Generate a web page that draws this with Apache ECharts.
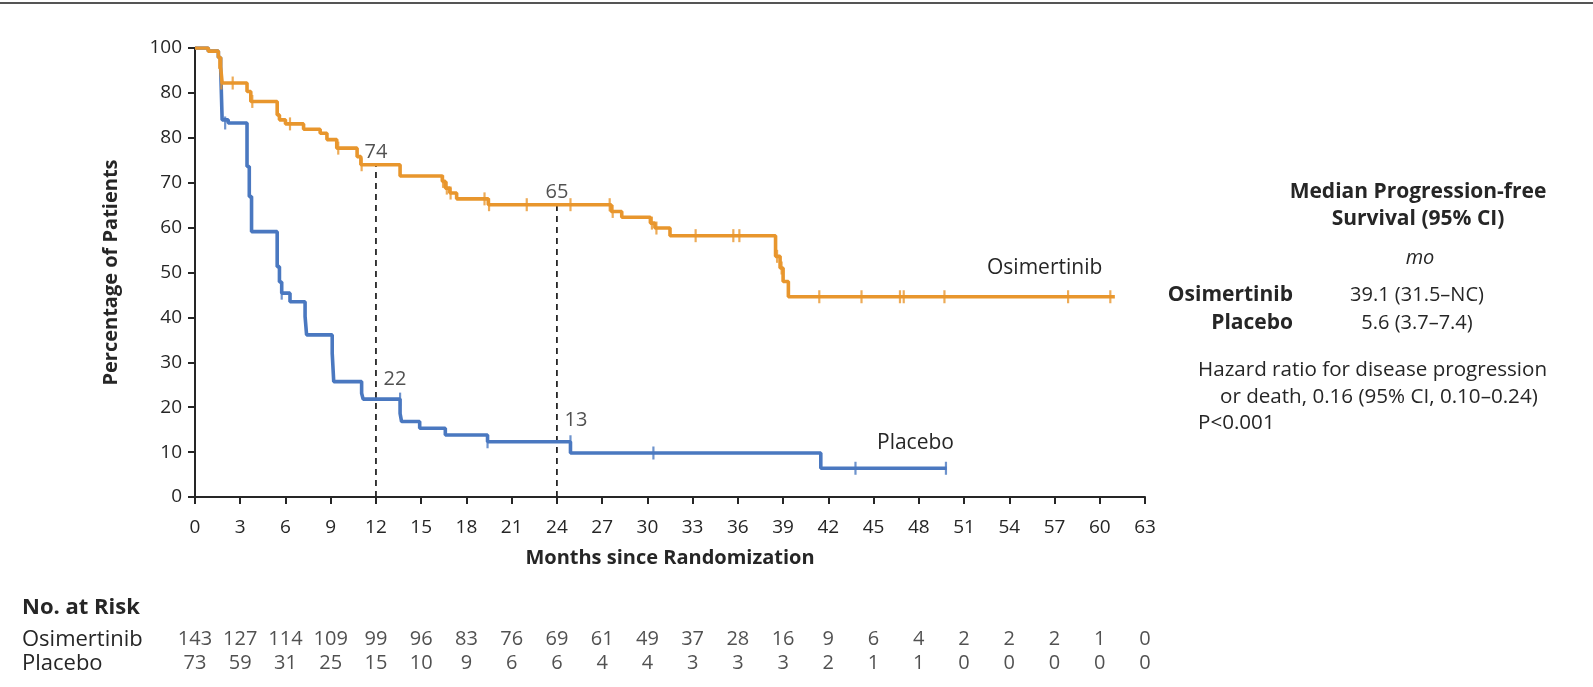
<!DOCTYPE html>
<html><head><meta charset="utf-8">
<script src="https://cdn.jsdelivr.net/npm/echarts@6/dist/echarts.min.js"></script>
<style>html,body{margin:0;padding:0;background:#fff}#c{width:1593px;height:687px}</style>
</head><body><div id="c"></div>
<script>
// ---------- data ----------
const xTickMonths = [0,3,6,9,12,15,18,21,24,27,30,33,36,39,42,45,48,51,54,57,60,63];
const yTickLabels = ['0','10','20','30','40','50','60','70','80','80','100'];

// Kaplan-Meier steps: [month, % surviving after that month]
const osiCurve = [[0,100],[0.88,99.3],[1.55,97.9],[1.7,95.8],[1.8,92.2],[3.45,90.3],[3.7,88.1],
  [5.45,85.1],[5.6,84.0],[6.0,83.1],[7.2,81.9],[8.3,81.0],[8.75,79.6],[9.4,77.7],[10.75,75.8],[11.0,74.0],
  [13.6,71.5],[16.4,70.3],[16.6,68.8],[16.9,67.7],[17.35,66.4],[19.45,65.1],[27.6,63.6],[28.3,62.3],
  [30.2,61.0],[30.5,59.9],[31.5,58.2],[38.5,53.6],[38.8,51.0],[39.0,48.0],[39.35,44.6],[61.0,44.6]];
const placeboCurve = [[0,100],[0.88,99.3],[1.55,97.9],[1.7,95.8],[1.8,84.0],[2.2,83.3],[3.45,73.6],[3.6,66.9],[3.75,59.1],
  [5.45,51.3],[5.6,47.9],[5.75,45.4],[6.3,43.5],[7.3,40.2],[7.4,36.1],[9.1,32.0],[9.2,25.7],[11.05,23.1],
  [11.15,21.8],[13.6,18.6],[13.7,16.8],[14.9,15.3],[16.6,13.8],[19.4,12.3],[24.9,9.8],[41.5,6.4],[49.85,6.4]];

// censored observations
const osiCensor = [[1.6,96.8],[1.75,92.2],[2.5,92.2],[3.8,88.1],[6.3,83.1],[9.5,77.7],[11.05,74.0],
  [16.45,70.3],[16.7,68.8],[16.95,67.7],[19.2,66.4],[19.5,65.1],[22.0,65.1],[24.9,65.1],[27.5,65.1],
  [27.7,63.6],[30.3,61.0],[30.6,59.9],[33.2,58.2],[35.7,58.2],[36.1,58.2],[38.6,53.6],[38.9,51.0],
  [41.4,44.6],[44.2,44.6],[46.75,44.6],[47.0,44.6],[49.7,44.6],[57.9,44.6],[60.7,44.6]];
const placeboCensor = [[2.0,83.3],[5.75,45.4],[13.6,21.8],[19.4,12.3],[24.9,12.3],[30.4,9.8],[43.8,6.4],[49.8,6.4]];

// landmark estimates
const milestoneMonths = [12, 24];
const milestoneOsi = [74, 65];
const milestonePlacebo = [22, 13];

// number at risk
const riskRows = ['Osimertinib', 'Placebo'];
const osiAtRisk = [143,127,114,109,99,96,83,76,69,61,49,37,28,16,9,6,4,2,2,2,1,0];
const placeboAtRisk = [73,59,31,25,15,10,9,6,6,4,4,3,3,3,2,1,1,0,0,0,0,0];

// ---------- chart ----------
const ORANGE = '#E8962D', BLUE = '#4A78C0', INK = '#262626';
const FONT = 'Open Sans';
const chart = echarts.init(document.getElementById('c'), null, {renderer: 'canvas'});

const dashed = milestoneMonths.map((m, i) => ({
  type: 'line', xAxisIndex: 0, yAxisIndex: 0, z: 1, silent: true, symbol: 'none',
  data: [[m, 0], [m, milestoneOsi[i]]],
  lineStyle: {color: INK, width: 1.8, type: [6, 5]}
}));

const riskSeries = [osiAtRisk, placeboAtRisk].map((arr, r) => ({
  type: 'scatter', xAxisIndex: 1, yAxisIndex: 1, symbolSize: 1, silent: true,
  itemStyle: {color: 'transparent'},
  data: xTickMonths.map((m, i) => [m, riskRows[r], arr[i]]),
  label: {show: true, position: 'inside', formatter: p => String(p.data[2]),
    fontFamily: FONT, fontSize: 20, color: INK}
}));

chart.setOption({
  animation: false,
  backgroundColor: '#fff',
  grid: [
    {left: 195, right: 448, top: 48, bottom: 190},
    {left: 195, right: 448, top: 628, height: 47}
  ],
  xAxis: [
    {type: 'value', gridIndex: 0, min: 0, max: 63, interval: 3,
     name: 'Months since Randomization', nameLocation: 'middle', nameGap: 51,
     nameTextStyle: {fontFamily: FONT, fontSize: 20, fontWeight: 'bold', color: INK},
     axisLine: {lineStyle: {color: INK, width: 2}},
     axisTick: {length: 7, lineStyle: {color: INK, width: 2}},
     axisLabel: {fontFamily: FONT, fontSize: 19, color: INK, margin: 21},
     splitLine: {show: false}},
    {type: 'value', gridIndex: 1, min: 0, max: 63, interval: 3, show: false}
  ],
  yAxis: [
    {type: 'value', gridIndex: 0, min: 0, max: 100, interval: 10,
     name: 'Percentage of Patients', nameLocation: 'middle', nameGap: 74,
     nameTextStyle: {fontFamily: FONT, fontSize: 20, fontWeight: 'bold', color: INK},
     axisLine: {show: true, lineStyle: {color: INK, width: 2}},
     axisTick: {show: true, length: 7, lineStyle: {color: INK, width: 2}},
     axisLabel: {fontFamily: FONT, fontSize: 19, color: INK, margin: 13,
       formatter: v => yTickLabels[Math.round(v / 10)]},
     splitLine: {show: false}},
    {type: 'category', gridIndex: 1, data: riskRows, inverse: true,
     axisLine: {show: false}, axisTick: {show: false},
     axisLabel: {interval: 0, align: 'left', margin: 173, fontFamily: FONT, fontSize: 22, color: INK}}
  ],
  series: [
    ...dashed,
    {type: 'line', name: 'Placebo', step: 'end', symbol: 'none', z: 3, data: placeboCurve,
     lineStyle: {color: BLUE, width: 3.6}},
    {type: 'line', name: 'Osimertinib', step: 'end', symbol: 'none', z: 4, data: osiCurve,
     lineStyle: {color: ORANGE, width: 3.6}},
    {type: 'scatter', z: 5, symbol: 'rect', symbolSize: [2.2, 13], data: placeboCensor,
     itemStyle: {color: BLUE}},
    {type: 'scatter', z: 6, symbol: 'rect', symbolSize: [2.2, 13], data: osiCensor,
     itemStyle: {color: ORANGE}},
    {type: 'scatter', z: 7, symbolSize: 1, itemStyle: {color: 'transparent'},
     data: milestoneMonths.map((m, i) => [m, milestoneOsi[i]]),
     label: {show: true, position: 'top', distance: 2, formatter: p => String(p.data[1]),
       fontFamily: FONT, fontSize: 20, color: INK}},
    {type: 'scatter', z: 7, symbolSize: 1, itemStyle: {color: 'transparent'},
     data: milestoneMonths.map((m, i) => [m, milestonePlacebo[i]]),
     label: {show: true, position: 'top', distance: 8, offset: [19, 0], formatter: p => String(p.data[1]),
       fontFamily: FONT, fontSize: 20, color: INK}},
    ...riskSeries
  ],
  graphic: [
    {type: 'rect', shape: {x: 0, y: 2, width: 1593, height: 2}, style: {fill: '#555'}},
    {type: 'text', x: 987, y: 268, style: {text: 'Osimertinib', fontFamily: FONT, fontSize: 21, fill: INK, verticalAlign: 'middle'}},
    {type: 'text', x: 877, y: 443, style: {text: 'Placebo', fontFamily: FONT, fontSize: 21, fill: INK, verticalAlign: 'middle'}},
    {type: 'text', x: 1418, y: 192, style: {text: 'Median Progression-free', fontFamily: FONT, fontSize: 21, fontWeight: 'bold', fill: INK, align: 'center', verticalAlign: 'middle'}},
    {type: 'text', x: 1418, y: 219, style: {text: 'Survival (95% CI)', fontFamily: FONT, fontSize: 21, fontWeight: 'bold', fill: INK, align: 'center', verticalAlign: 'middle'}},
    {type: 'text', x: 1420, y: 258, style: {text: 'mo', fontFamily: FONT, fontSize: 20, fontStyle: 'italic', fill: INK, align: 'center', verticalAlign: 'middle'}},
    {type: 'text', x: 1293, y: 295, style: {text: 'Osimertinib', fontFamily: FONT, fontSize: 21, fontWeight: 'bold', fill: INK, align: 'right', verticalAlign: 'middle'}},
    {type: 'text', x: 1417, y: 295, style: {text: '39.1 (31.5–NC)', fontFamily: FONT, fontSize: 20, fill: INK, align: 'center', verticalAlign: 'middle'}},
    {type: 'text', x: 1293, y: 323, style: {text: 'Placebo', fontFamily: FONT, fontSize: 21, fontWeight: 'bold', fill: INK, align: 'right', verticalAlign: 'middle'}},
    {type: 'text', x: 1417, y: 323, style: {text: '5.6 (3.7–7.4)', fontFamily: FONT, fontSize: 20, fill: INK, align: 'center', verticalAlign: 'middle'}},
    {type: 'text', x: 1198, y: 370, style: {text: 'Hazard ratio for disease progression', fontFamily: FONT, fontSize: 20.6, fill: INK, verticalAlign: 'middle'}},
    {type: 'text', x: 1220, y: 397, style: {text: 'or death, 0.16 (95% CI, 0.10–0.24)', fontFamily: FONT, fontSize: 20.6, fill: INK, verticalAlign: 'middle'}},
    {type: 'text', x: 1198, y: 423, style: {text: 'P<0.001', fontFamily: FONT, fontSize: 20.6, fill: INK, verticalAlign: 'middle'}},
    {type: 'text', x: 22, y: 608, style: {text: 'No. at Risk', fontFamily: FONT, fontSize: 22, fontWeight: 'bold', fill: INK, verticalAlign: 'middle'}}
  ]
});
</script>
</body></html>
